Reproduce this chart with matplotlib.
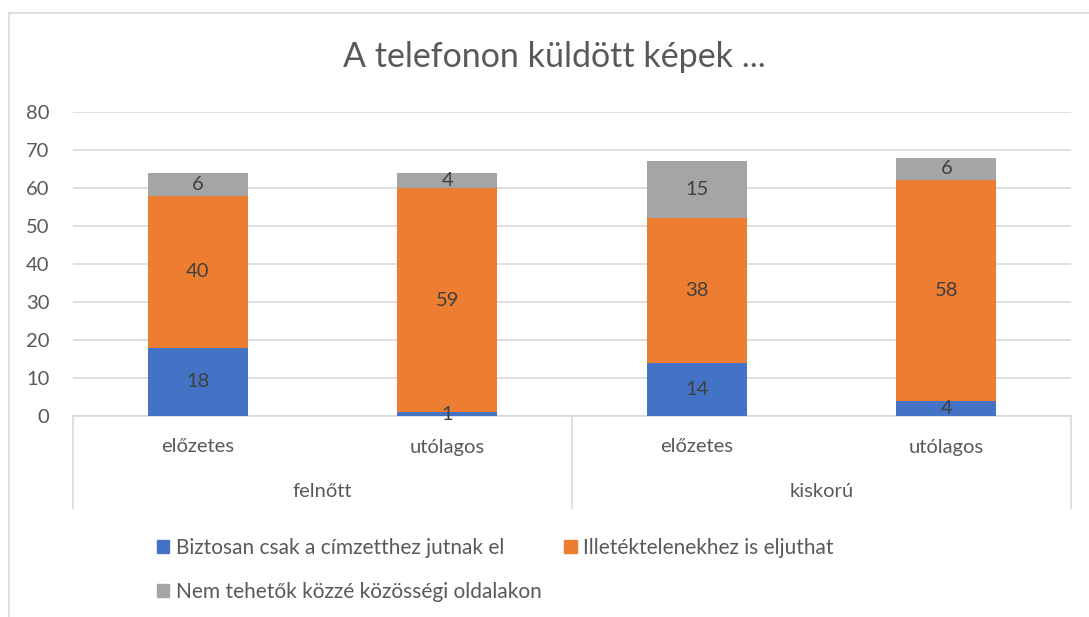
import matplotlib.pyplot as plt
from matplotlib.patches import Patch, Rectangle

plt.rcParams['font.family'] = ['Lato', 'DejaVu Sans']

groups = ['felnőtt', 'kiskorú']
periods = ['előzetes', 'utólagos', 'előzetes', 'utólagos']
series_names = ['Biztosan csak a címzetthez jutnak el',
                'Illetéktelenekhez is eljuthat',
                'Nem tehetők közzé közösségi oldalakon']
biztosan = [18, 1, 14, 4]
illetektelen = [40, 59, 38, 58]
nem_tehetok = [6, 4, 15, 6]
colors = ['#4472C4', '#ED7D31', '#A5A5A5']
txt = '#595959'

W, H = 1089, 617
fig = plt.figure(figsize=(W / 100, H / 100), dpi=100)
ax = fig.add_axes([73 / W, 1 - 416 / H, (1071 - 73) / W, (416 - 112) / H])

# chart border (light gray, only left and top visible)
fig.add_artist(Rectangle((9 / W, -0.05), 1.2, 1 - 13 / H + 0.05,
                         transform=fig.transFigure, fill=False,
                         edgecolor='#D9D9D9', linewidth=1.2))

x = [0.5, 1.5, 2.5, 3.5]
series = [biztosan, illetektelen, nem_tehetok]
bottom = [0, 0, 0, 0]
for vals, c in zip(series, colors):
    bars = ax.bar(x, vals, width=0.4, bottom=bottom, color=c, zorder=3)
    for b, v, b0 in zip(bars, vals, bottom):
        ax.text(b.get_x() + b.get_width() / 2, b0 + v / 2, str(v),
                ha='center', va='center', fontsize=14.5, color='#404040', zorder=4)
    bottom = [b0 + v for b0, v in zip(bottom, vals)]

ax.set_xlim(0, 4)
ax.set_ylim(0, 80)
ax.set_yticks(range(0, 81, 10))
ax.tick_params(axis='y', length=0, labelsize=14.5, labelcolor=txt, pad=17)
ax.set_xticks([])
ax.grid(axis='y', color='#D9D9D9', linewidth=1.2, zorder=0)
for s in ['top', 'right', 'left']:
    ax.spines[s].set_visible(False)
ax.spines['bottom'].set_color('#D9D9D9')
ax.spines['bottom'].set_linewidth(1.2)

# two-level category axis
depth = -92 / 304
for xv in [0, 2, 4]:
    ax.plot([xv, xv], [0, depth], transform=ax.get_xaxis_transform(),
            color='#D9D9D9', linewidth=1.2, clip_on=False)
for xv, lab in zip(x, periods):
    ax.text(xv, -31 / 304, lab, transform=ax.get_xaxis_transform(),
            ha='center', va='center', fontsize=14.5, color=txt)
for i, g in enumerate(groups):
    ax.text(1 + 2 * i, -76 / 304, g, transform=ax.get_xaxis_transform(),
            ha='center', va='center', fontsize=14.5, color=txt)

fig.text(554 / W, 1 - 57 / H, 'A telefonon küldött képek ...',
         ha='center', va='center', fontsize=24.5, color=txt)

handles = [Patch(color=c) for c in colors]
order = [0, 2, 1]
fig.legend([handles[i] for i in order], [series_names[i] for i in order],
           ncol=2, loc='upper left', bbox_to_anchor=(138 / W, 1 - 519 / H),
           frameon=False, fontsize=15, labelcolor=txt,
           handlelength=0.6, handleheight=0.6, handletextpad=0.3,
           columnspacing=1.1, labelspacing=1.15)

fig.savefig('out.png', dpi=100)
